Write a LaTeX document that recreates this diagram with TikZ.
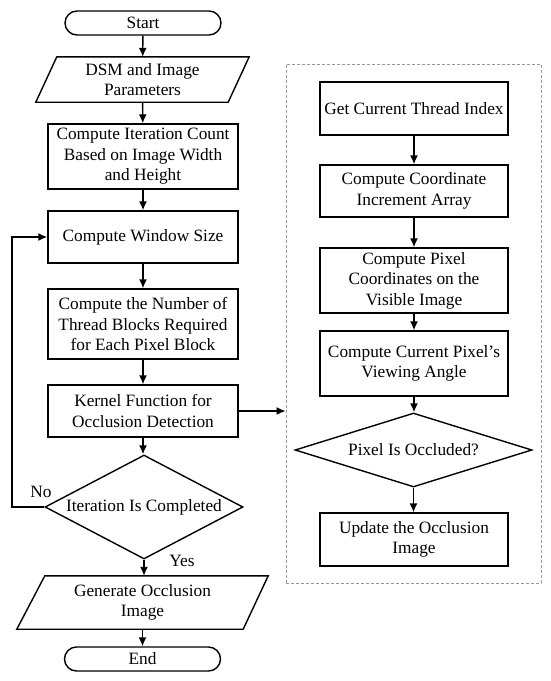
\documentclass[tikz,border=0pt]{standalone}
\usepackage{fontspec}
\setmainfont{Liberation Serif}
\usetikzlibrary{shapes.geometric,arrows.meta,calc}
\begin{document}
\begin{tikzpicture}[x=1pt,y=-1pt,
  every node/.style={font=\fontsize{17.3}{20.5}\selectfont, align=center, inner sep=0pt},
  box/.style={draw, line width=1.4pt, minimum width=190pt},
  rbox/.style={draw, line width=1.4pt, minimum width=188pt},
  term/.style={draw, line width=1.4pt, rounded corners=12pt, minimum width=156pt, minimum height=24pt},
  dec/.style={draw, diamond, line width=1.4pt, inner sep=0pt},
  arr/.style={line width=1.4pt, -{Latex[length=9pt,width=8pt]}},
  lbl/.style={font=\fontsize{17.3}{20.5}\selectfont}
]
\useasboundingbox (0,0) rectangle (550,681);
\fill[white] (0,0) rectangle (550,681);

% dashed container
\node[draw=black!40, densely dashed, line width=0.9pt, minimum width=255pt, minimum height=519pt] (dbox) at (413.5,323.5) {};

% left column
\node[term] (start) at (143,23) {Start};
\node[minimum width=213pt, minimum height=45pt] (dsm) at (142.5,79.5) {DSM and Image\\Parameters};
\draw[line width=1.4pt] (dsm.south west) -- ($(dsm.south east)+(-21,0)$) -- (dsm.north east) -- ($(dsm.north west)+(21,0)$) -- cycle;
\node[box, minimum height=65pt] (iter) at (143,156.5) {Compute Iteration Count\\Based on Image Width\\and Height};
\node[box, minimum height=52pt] (win) at (143,237) {Compute Window Size};
\node[box, minimum height=70pt] (num) at (143,324) {Compute the Number of\\Thread Blocks Required\\for Each Pixel Block};
\node[box, minimum height=52pt] (kern) at (143,411) {Kernel Function for\\Occlusion Detection};
\node[dec, minimum width=198pt, minimum height=104pt, aspect=1.9] (itdone) at (144,507) {Iteration Is Completed};
\node[minimum width=251pt, minimum height=53pt] (gen) at (142.5,602.5) {Generate Occlusion\\Image};
\draw[line width=1.4pt] (gen.south west) -- ($(gen.south east)+(-25,0)$) -- (gen.north east) -- ($(gen.north west)+(28,0)$) -- cycle;
\node[term] (end) at (142.5,659) {End};

\draw[arr] (start) -- (dsm);
\draw[arr] (dsm) -- (iter);
\draw[arr] (iter) -- (win);
\draw[arr] (win) -- (num);
\draw[arr] (num) -- (kern);
\draw[arr] (kern.south) -- (kern.south |- itdone.north);
\draw[arr] (itdone.south) -- (itdone.south |- gen.north);
\draw[arr] (gen) -- (end);
\coordinate (loop) at (12,507);
\draw[arr] (itdone.west) -- (loop) |- (win.west);
\node[lbl] (no) at (41,492) {No};
\node[lbl] (yes) at (182,561) {Yes};
\draw[arr] (kern.east) -- (kern.east -| dbox.west);

% right column
\node[rbox, minimum height=53pt] (thread) at (414,108.5) {Get Current Thread Index};
\node[rbox, minimum height=52pt] (coord) at (414,191) {Compute Coordinate\\Increment Array};
\node[rbox, minimum height=65pt] (pix) at (414,280.5) {Compute Pixel\\Coordinates on the\\Visible Image};
\node[rbox, minimum height=65pt] (view) at (414,363.5) {Compute Current Pixel’s\\Viewing Angle};
\node[dec, minimum width=237pt, minimum height=74pt, aspect=3.2] (occ) at (413.5,450) {Pixel Is Occluded?};
\node[rbox, minimum height=53pt] (upd) at (414,539.5) {Update the Occlusion\\Image};

\draw[arr] (thread) -- (coord);
\draw[arr] (coord) -- (pix);
\draw[arr] (pix) -- (view);
\draw[arr] (view.south) -- (view.south |- occ.north);
\draw[arr] (occ.south) -- (occ.south |- upd.north);
\end{tikzpicture}
\end{document}
